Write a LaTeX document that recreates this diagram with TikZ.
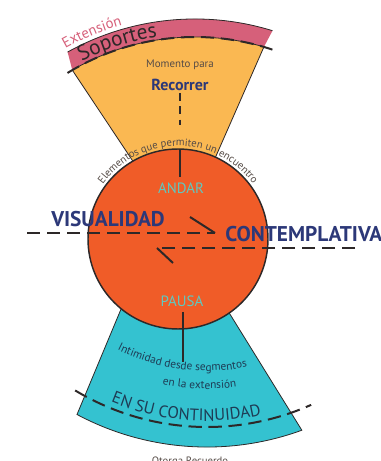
\documentclass[tikz,border=0pt]{standalone}
\usepackage{fontspec}
\setmainfont{PT Sans}
\usetikzlibrary{decorations.text}
\definecolor{discorange}{RGB}{240,92,40}
\definecolor{fanyellow}{RGB}{250,184,82}
\definecolor{bandpink}{RGB}{214,96,122}
\definecolor{fancyan}{RGB}{52,194,208}
\definecolor{inknavy}{RGB}{44,56,120}
\definecolor{inkteal}{RGB}{95,200,192}
\definecolor{inkdark}{RGB}{45,40,40}
\definecolor{inkgray}{RGB}{85,75,70}
\definecolor{inksea}{RGB}{30,60,85}
\newcommand\elemfont{\fontsize{8}{9}\selectfont\color{inkgray}}
\newcommand\bandfont{\fontsize{11}{12}\selectfont\color{bandpink}}
\newcommand\soportfont{\fontsize{16}{18}\selectfont\color{inkdark}}
\newcommand\lowfont{\fontsize{8.5}{10}\selectfont\color{inksea}}
\newcommand\bigfont{\fontsize{12.5}{14}\selectfont\color{inksea}}

\begin{document}
\begin{tikzpicture}[x=0.75pt,y=0.75pt,
  fanline/.style={draw=inkdark,line width=0.6pt},
  cutline/.style={draw=inkdark,line width=1.5pt,dash pattern=on 10pt off 5pt},
  barbline/.style={draw=inkdark,line width=1.5pt},
  tickline/.style={draw=inkdark,line width=0.9pt},
  arctext/.style={decorate,decoration={text along path,text align=center,text={#1}}},
  bigword/.style={font=\fontsize{16}{18}\selectfont\bfseries,text=inknavy,inner sep=0pt},
  stateword/.style={font=\fontsize{11.2}{12}\selectfont,text=inkteal,inner sep=0pt}]
  \useasboundingbox (0,0) rectangle (380,461);
  \coordinate (U) at (195,180);  % centre of upper fan
  \coordinate (L) at (207,290);  % centre of lower fan
  \coordinate (O) at (178,222);  % centre of disc

  % Upper fan
  \fill[bandpink] (72.3,390.9) arc[start angle=120.2,end angle=73.6,radius=244]
      -- (272.5,430.3) arc[start angle=72.8,end angle=119.1,radius=262] -- cycle;
  \draw[fanline] (272.5,430.3) arc[start angle=72.8,end angle=119.1,radius=262];
  \filldraw[fill=fanyellow,fanline] (158.7,261) -- (72.3,390.9)
      arc[start angle=120.2,end angle=73.6,radius=244] -- (196.7,261);
  \draw[cutline] (U) ++(121.5:244) arc[start angle=121.5,end angle=71.5,radius=244];

  % Lower fan
  \filldraw[fill=fancyan,fanline] (129,171) -- (77,46.5)
      arc[start angle=241.9,end angle=290.1,radius=276] -- (215,171);
  \draw[cutline] (L) ++(239:256) arc[start angle=239,end angle=294,radius=256];

  % Disc
  \filldraw[fill=discorange,draw=inkdark,line width=1.1pt] (O) circle[radius=90];

  % Vertical ticks
  \draw[tickline,dash pattern=on 6pt off 4pt] (180,368) -- (180,336);
  \draw[tickline] (180,311) -- (180,284);
  \draw[tickline] (183,149) -- (183,99);

  % Two way harpoons
  \coordinate (visL) at (27,228);
  \coordinate (visR) at (215,228);
  \coordinate (conR) at (355,213);
  \coordinate (conL) at (157,213);
  \draw[cutline] (visL) -- (visR);
  \draw[barbline] (visR) -- ++(-25,16);
  \draw[cutline] (conR) -- (conL);
  \draw[barbline] (conL) -- ++(16,-15);

  % Curved labels
  \path[arctext={|\bandfont|Extensión}] (U) ++(122:266) arc[start angle=122,end angle=103,radius=266];
  \path[arctext={|\soportfont|Soportes}] (U) ++(122:247) arc[start angle=122,end angle=94,radius=247];
  \path[arctext={|\elemfont|Elementos que permiten un encuentro}] (O) ++(152:93) arc[start angle=152,end angle=28,radius=93];
  \path[arctext={|\lowfont|Intimidad desde segmentos}] (L) ++(240:200) arc[start angle=240,end angle=285,radius=200];
  \path[arctext={|\lowfont|en la extensión}] (L) ++(254:218) arc[start angle=254,end angle=282,radius=218];
  \path[arctext={|\bigfont|EN SU CONTINUIDAD}] (L) ++(243:250) arc[start angle=243,end angle=287,radius=250];

  % Straight labels
  \node[font=\fontsize{8.2}{9}\selectfont,text=inkgray,inner sep=0pt] (momento) at (180,396) {Momento para};
  \node[font=\fontsize{12}{13}\selectfont\bfseries,text=inknavy,inner sep=0pt] (recorrer) at (180,376) {Recorrer};
  \node[stateword] (andar) at (181,273) {ANDAR};
  \node[stateword] (pausa) at (182,160) {PAUSA};
  \node[bigword,anchor=base] (visual) at (108,234) {VISUALIDAD};
  \node[bigword,anchor=base west] (contem) at (225,219) {CONTEMPLATIVA};
  \node[font=\fontsize{8}{9}\selectfont,text=inkgray,anchor=north,inner sep=0pt] (otorga) at (190,4) {Otorga Recuerdo};
\end{tikzpicture}
\end{document}
